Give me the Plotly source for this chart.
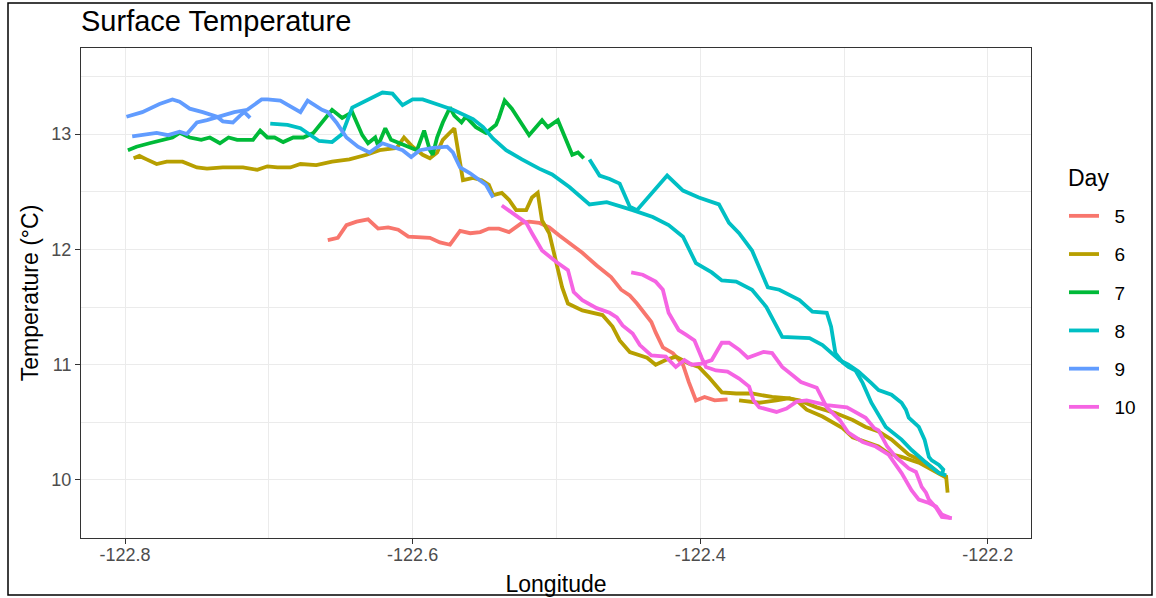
import plotly.graph_objects as go

# ---------------- data ----------------
days = ["5", "6", "7", "8", "9", "10"]
colors = ["#F8766D", "#B79F00", "#00BA38", "#00BFC4", "#619CFF", "#F564E3"]

day5_lon = [-122.659, -122.652, -122.646, -122.639, -122.631, -122.624, -122.617, -122.610, -122.603,
            -122.588, -122.581, -122.574, -122.567, -122.560, -122.553, -122.547, -122.540, -122.533,
            -122.524, -122.519, -122.512, -122.505, -122.498, -122.490, -122.482, -122.472, -122.462,
            -122.455, -122.449, -122.444, -122.434, -122.431, -122.426, -122.419, -122.412, -122.408,
            -122.403, -122.397, -122.390, -122.381]
day5_temp = [12.08, 12.10, 12.21, 12.24, 12.26, 12.18, 12.19, 12.17, 12.11,
             12.10, 12.06, 12.04, 12.16, 12.14, 12.15, 12.18, 12.18, 12.15,
             12.23, 12.24, 12.23, 12.19, 12.12, 12.05, 11.97, 11.86, 11.76,
             11.65, 11.60, 11.53, 11.37, 11.28, 11.15, 11.10, 11.00, 10.85,
             10.69, 10.72, 10.69, 10.70]

day6a_lon = [-122.794, -122.790, -122.785, -122.778, -122.771, -122.760, -122.750, -122.743, -122.732,
             -122.725, -122.718, -122.708, -122.701, -122.694, -122.685, -122.678, -122.667, -122.656,
             -122.644, -122.632, -122.623, -122.611, -122.606, -122.600, -122.593, -122.588, -122.583,
             -122.579, -122.571, -122.565, -122.558, -122.552, -122.547, -122.544, -122.538, -122.533,
             -122.528, -122.521, -122.517, -122.513, -122.510, -122.505, -122.500, -122.496, -122.492,
             -122.482, -122.468, -122.461, -122.456, -122.449, -122.437, -122.431, -122.424, -122.417,
             -122.408, -122.401, -122.394, -122.385, -122.375, -122.364, -122.350, -122.340, -122.331,
             -122.319, -122.306, -122.294, -122.285, -122.276, -122.267, -122.255, -122.243, -122.234,
             -122.229, -122.228]
day6a_temp = [12.79, 12.81, 12.78, 12.74, 12.76, 12.76, 12.71, 12.70, 12.71,
              12.71, 12.71, 12.69, 12.72, 12.71, 12.71, 12.74, 12.73, 12.76,
              12.78, 12.82, 12.86, 12.88, 12.97, 12.89, 12.82, 12.79, 12.84,
              12.95, 13.05, 12.60, 12.62, 12.60, 12.56, 12.47, 12.49, 12.43,
              12.34, 12.34, 12.45, 12.49, 12.25, 12.14, 11.88, 11.67, 11.53,
              11.47, 11.43, 11.33, 11.21, 11.11, 11.06, 11.00, 11.04, 11.07,
              11.01, 10.98, 10.89, 10.76, 10.75, 10.75, 10.72, 10.71, 10.69,
              10.63, 10.58, 10.52, 10.46, 10.42, 10.35, 10.22, 10.15, 10.06,
              10.03, 9.89]
day6b_lon = [-122.373, -122.366, -122.359, -122.347, -122.338, -122.333, -122.326, -122.315, -122.301,
             -122.294, -122.285, -122.276, -122.269, -122.260, -122.248, -122.239, -122.229]
day6b_temp = [10.69, 10.68, 10.67, 10.69, 10.71, 10.69, 10.61, 10.55, 10.45,
              10.37, 10.33, 10.29, 10.23, 10.20, 10.15, 10.09, 10.02]

day7_lon = [-122.798, -122.792, -122.783, -122.774, -122.767, -122.762, -122.755, -122.747, -122.741,
            -122.734, -122.728, -122.722, -122.711, -122.706, -122.701, -122.696, -122.690, -122.683,
            -122.676, -122.669, -122.656, -122.649, -122.642, -122.635, -122.631, -122.626, -122.624,
            -122.619, -122.615, -122.609, -122.603, -122.597, -122.592, -122.588, -122.586, -122.583,
            -122.579, -122.574, -122.571, -122.566, -122.563, -122.556, -122.549, -122.542, -122.540,
            -122.536, -122.531, -122.524, -122.519, -122.510, -122.506, -122.499, -122.489, -122.485,
            -122.481]
day7_temp = [12.86, 12.89, 12.92, 12.95, 12.97, 13.01, 12.97, 12.95, 12.97,
             12.92, 12.97, 12.95, 12.95, 13.03, 12.97, 12.97, 12.93, 12.97,
             12.97, 13.01, 13.21, 13.14, 13.19, 12.99, 12.92, 12.97, 12.90,
             13.05, 12.95, 12.92, 12.89, 12.86, 13.03, 12.86, 12.82, 12.97,
             13.10, 13.23, 13.16, 13.10, 13.15, 13.06, 13.01, 13.08, 13.14,
             13.29, 13.22, 13.08, 12.99, 13.12, 13.06, 13.12, 12.82, 12.84,
             12.79]

day8a_lon = [-122.699, -122.687, -122.678, -122.665, -122.656, -122.649, -122.642, -122.632, -122.621,
             -122.614, -122.607, -122.600, -122.593, -122.581, -122.572, -122.558, -122.551, -122.544,
             -122.535, -122.524, -122.512, -122.503, -122.491, -122.477, -122.465, -122.447, -122.433,
             -122.422, -122.412, -122.403, -122.392, -122.385, -122.375, -122.364, -122.354, -122.343,
             -122.324, -122.315, -122.303, -122.297, -122.290, -122.281, -122.276, -122.267, -122.260,
             -122.257, -122.255, -122.248, -122.244, -122.241, -122.239, -122.234, -122.231, -122.232]
day8a_temp = [13.09, 13.08, 13.05, 12.94, 12.93, 13.00, 13.23, 13.29, 13.36,
              13.35, 13.25, 13.30, 13.30, 13.25, 13.21, 13.13, 13.06, 12.96,
              12.86, 12.78, 12.70, 12.65, 12.54, 12.39, 12.41, 12.34, 12.28,
              12.21, 12.11, 11.88, 11.80, 11.73, 11.72, 11.65, 11.50, 11.24,
              11.23, 11.17, 11.04, 11.00, 10.94, 10.84, 10.78, 10.74, 10.67,
              10.61, 10.54, 10.46, 10.35, 10.20, 10.17, 10.13, 10.09, 10.04]
day8b_lon = [-122.477, -122.470, -122.463, -122.456, -122.449, -122.444, -122.423, -122.412, -122.401,
             -122.387, -122.380, -122.373, -122.364, -122.359, -122.353, -122.345, -122.331, -122.322,
             -122.312, -122.309, -122.306, -122.301, -122.297, -122.292, -122.287, -122.281, -122.271,
             -122.260, -122.253, -122.243, -122.234, -122.229]
day8b_temp = [12.78, 12.64, 12.61, 12.57, 12.37, 12.34, 12.64, 12.51, 12.45,
              12.39, 12.23, 12.14, 11.99, 11.85, 11.67, 11.65, 11.56, 11.46,
              11.45, 11.33, 11.10, 11.02, 10.98, 10.95, 10.84, 10.67, 10.46,
              10.35, 10.26, 10.15, 10.06, 10.04]

day9a_lon = [-122.799, -122.788, -122.776, -122.767, -122.762, -122.755, -122.746, -122.736, -122.732,
             -122.725, -122.720, -122.717, -122.713]
day9a_temp = [13.15, 13.19, 13.26, 13.30, 13.28, 13.22, 13.19, 13.15, 13.11,
              13.10, 13.16, 13.19, 13.14]
day9b_lon = [-122.795, -122.778, -122.770, -122.762, -122.757, -122.750, -122.743, -122.734, -122.724,
             -122.715, -122.705, -122.701, -122.692, -122.678, -122.673, -122.663, -122.659, -122.653,
             -122.646, -122.638, -122.630, -122.621, -122.614, -122.607, -122.601, -122.595, -122.586,
             -122.576, -122.572, -122.567, -122.560, -122.556, -122.549, -122.544]
day9b_temp = [12.98, 13.01, 12.99, 13.02, 13.00, 13.10, 13.12, 13.15, 13.19,
              13.21, 13.30, 13.30, 13.29, 13.19, 13.29, 13.21, 13.19, 13.10,
              12.97, 12.89, 12.84, 12.92, 12.89, 12.86, 12.80, 12.86, 12.88,
              12.89, 12.84, 12.71, 12.66, 12.62, 12.56, 12.45]

day10a_lon = [-122.538, -122.531, -122.526, -122.521, -122.517, -122.510, -122.500, -122.492, -122.488,
              -122.482, -122.472, -122.463, -122.458, -122.454, -122.447, -122.442, -122.434, -122.424,
              -122.417, -122.411, -122.406, -122.399, -122.392, -122.385, -122.380, -122.373, -122.367,
              -122.356, -122.350, -122.343, -122.336, -122.330, -122.319, -122.316, -122.312, -122.303,
              -122.297, -122.287, -122.278, -122.269, -122.260, -122.253, -122.248, -122.241, -122.236,
              -122.232, -122.226]
day10a_temp = [12.38, 12.32, 12.28, 12.23, 12.14, 11.99, 11.89, 11.82, 11.63,
               11.56, 11.49, 11.45, 11.41, 11.34, 11.27, 11.17, 11.08, 11.07,
               10.98, 11.04, 11.00, 11.01, 11.04, 11.19, 11.19, 11.13, 11.06,
               11.11, 11.10, 10.98, 10.91, 10.85, 10.80, 10.72, 10.63, 10.52,
               10.41, 10.33, 10.29, 10.22, 10.06, 9.91, 9.83, 9.80, 9.77,
               9.70, 9.67]
day10b_lon = [-122.448, -122.440, -122.431, -122.426, -122.422, -122.415, -122.410, -122.404, -122.399,
              -122.396, -122.389, -122.381, -122.373, -122.366, -122.363, -122.359, -122.347, -122.340,
              -122.333, -122.326, -122.312, -122.298, -122.285, -122.279, -122.276, -122.270, -122.264,
              -122.255, -122.250, -122.246, -122.243, -122.241, -122.236, -122.232, -122.225]
day10b_temp = [11.80, 11.78, 11.72, 11.65, 11.45, 11.30, 11.26, 11.21, 11.06,
               10.98, 10.95, 10.94, 10.88, 10.81, 10.69, 10.63, 10.59, 10.62,
               10.68, 10.69, 10.65, 10.63, 10.54, 10.45, 10.43, 10.29, 10.20,
               10.10, 10.07, 9.94, 9.89, 9.83, 9.76, 9.68, 9.67]

segments_lon = {
    "5": [day5_lon],
    "6": [day6a_lon, day6b_lon],
    "7": [day7_lon],
    "8": [day8a_lon, day8b_lon],
    "9": [day9a_lon, day9b_lon],
    "10": [day10a_lon, day10b_lon],
}
segments_temp = {
    "5": [day5_temp],
    "6": [day6a_temp, day6b_temp],
    "7": [day7_temp],
    "8": [day8a_temp, day8b_temp],
    "9": [day9a_temp, day9b_temp],
    "10": [day10a_temp, day10b_temp],
}

x_ticks = [-122.8, -122.6, -122.4, -122.2]
x_tick_text = ["-122.8", "-122.6", "-122.4", "-122.2"]
y_ticks = [10, 11, 12, 13]
y_tick_text = ["10", "11", "12", "13"]

# ---------------- figure ----------------
FONT = "Liberation Sans, Arial, sans-serif"
NBSP = "\u00a0"
fig = go.Figure()

for day, col in zip(days, colors):
    xs, ys = [], []
    for sx, sy in zip(segments_lon[day], segments_temp[day]):
        if xs:
            xs.append(None)
            ys.append(None)
        xs.extend(sx)
        ys.extend(sy)
    fig.add_trace(go.Scatter(
        x=xs, y=ys, mode="lines", name=NBSP * 2 + day, legendgroup=day,
        line=dict(color=col, width=3.8), connectgaps=False,
    ))

axis_common = dict(
    automargin=False,
    showgrid=True, gridcolor="#EBEBEB", gridwidth=1.3,
    zeroline=False, showline=True, linecolor="#333333", linewidth=1, mirror=True,
    ticks="outside", ticklen=5, tickcolor="#333333", tickwidth=1,
    tickfont=dict(family=FONT, size=18, color="#4D4D4D"),
)

fig.update_xaxes(
    range=[-122.8306, -122.1700], tickvals=x_ticks, ticktext=x_tick_text,
    minor=dict(tickvals=[-122.7, -122.5, -122.3], showgrid=True, gridcolor="#EBEBEB", gridwidth=0.7, ticks=""),
    title=dict(text="Longitude", font=dict(family=FONT, size=23, color="black"), standoff=12),
    ticklabelstandoff=-5,
    **axis_common,
)
fig.update_yaxes(
    range=[9.497, 13.746], tickvals=y_ticks, ticktext=y_tick_text,
    minor=dict(tickvals=[9.5, 10.5, 11.5, 12.5, 13.5], showgrid=True, gridcolor="#EBEBEB", gridwidth=0.7, ticks=""),
    title=dict(text="Temperature (°C)", font=dict(family=FONT, size=23, color="black"), standoff=6),
    **axis_common,
)

L, R, T, B = 81, 1031, 48, 538
W, H = 1156, 598
pw, ph = R - L, B - T

fig.update_layout(
    width=W, height=H,
    margin=dict(l=L, r=W - R, t=T, b=H - B, pad=0, autoexpand=False),
    paper_bgcolor="white", plot_bgcolor="white",
    title=dict(text="Surface Temperature", font=dict(family=FONT, size=29, color="black"),
               xref="paper", x=0, xanchor="left", yref="container", y=1 - 21 / H, yanchor="middle"),
    legend=dict(
        font=dict(family=FONT, size=19, color="black"),
        x=(1064 - L) / pw, xanchor="left", y=(B - 197) / ph, yanchor="top",
        tracegroupgap=10.5, itemwidth=30, bgcolor="rgba(0,0,0,0)", borderwidth=0,
    ),
    showlegend=True,
    annotations=[dict(text="Day", xref="paper", yref="paper", x=(1066 - L) / pw, y=(B - 178) / ph,
                      xanchor="left", yanchor="middle", showarrow=False,
                      font=dict(family=FONT, size=23, color="black"))],
    shapes=[dict(type="rect", xref="paper", yref="paper",
                 x0=(8 - L) / pw, x1=(1152 - L) / pw, y0=(B - 595) / ph, y1=(B - 3) / ph,
                 line=dict(color="black", width=1.5), fillcolor="rgba(0,0,0,0)", layer="above")],
)

fig.write_html("out.html", config={"displayModeBar": False},
               post_script="document.body.style.margin='0';document.body.style.overflow='hidden';")
